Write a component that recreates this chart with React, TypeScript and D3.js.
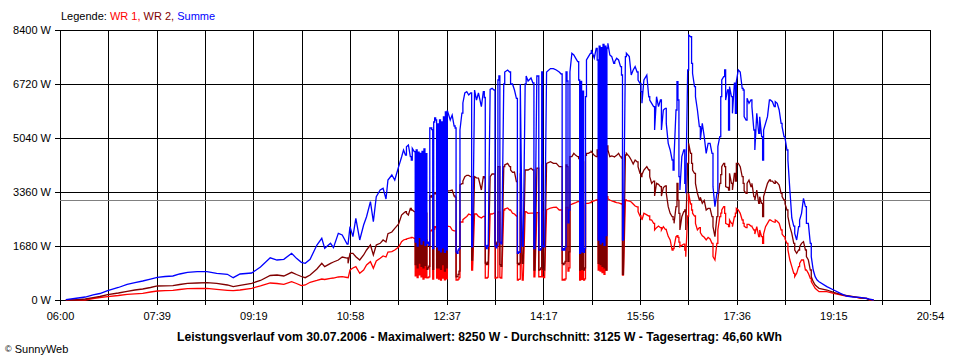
import React from 'react';
import * as d3 from 'd3';

// time of day in minutes since midnight
const times = [
  366, 375, 386, 394, 401, 409, 420, 429, 437, 445, 453, 460, 468, 476, 483, 491, 501, 511, 521, 532,
  538, 545, 557, 566, 576, 583, 590, 598, 603, 608, 612, 617, 624, 629, 632, 638, 641, 646, 650, 655,
  656, 658, 661, 664, 668, 672, 675, 679, 682, 685, 689, 692, 695, 697, 701, 704, 708, 711, 713, 715,
  716, 718, 720, 721, 722, 724, 725, 726, 727, 728, 729, 730, 731, 732, 733, 734, 735, 736, 737, 738,
  739, 740, 741, 742, 743, 744, 745, 746, 747, 748, 749, 750, 751, 752, 753, 754, 755, 756, 757, 758,
  761, 763, 765, 766, 767, 768, 769, 770, 771, 773, 774, 776, 778, 780, 782, 783, 784, 786, 788, 790,
  793, 795, 796, 797, 798, 799, 800, 802, 804, 806, 807, 808, 809, 810, 811, 812, 813, 814, 816, 817,
  820, 822, 823, 825, 827, 829, 830, 831, 832, 833, 835, 836, 838, 839, 841, 844, 846, 847, 848, 850,
  851, 852, 853, 854, 855, 856, 857, 858, 860, 864, 867, 870, 873, 875, 876, 877, 878, 879, 880, 881,
  882, 883, 884, 886, 888, 890, 892, 893, 894, 895, 896, 897, 898, 899, 900, 901, 903, 905, 906, 909,
  911, 912, 913, 914, 915, 916, 917, 918, 919, 920, 921, 922, 923, 925, 927, 929, 930, 932, 934, 936,
  937, 938, 939, 941, 942, 945, 947, 949, 951, 953, 954, 956, 957, 958, 960, 963, 965, 966, 968, 970,
  971, 973, 975, 977, 978, 980, 982, 983, 985, 987, 989, 990, 991, 993, 994, 995, 996, 997, 999, 1001,
  1002, 1003, 1005, 1006, 1008, 1009, 1010, 1012, 1013, 1015, 1017, 1018, 1020, 1022, 1024, 1026, 1028, 1030, 1031, 1033,
  1035, 1036, 1038, 1039, 1040, 1042, 1043, 1044, 1046, 1047, 1048, 1050, 1051, 1053, 1054, 1055, 1057, 1059, 1061, 1062,
  1063, 1065, 1066, 1068, 1070, 1071, 1073, 1074, 1076, 1078, 1079, 1081, 1082, 1083, 1085, 1087, 1089, 1090, 1092, 1094,
  1095, 1097, 1099, 1101, 1102, 1104, 1105, 1107, 1108, 1110, 1112, 1114, 1115, 1117, 1119, 1120, 1122, 1124, 1126, 1127,
  1129, 1131, 1132, 1134, 1136, 1138, 1140, 1148, 1155, 1162, 1168, 1175, 1182, 1189, 1192, 1196,
];

// Summe (W)
const summe = [
  10, 47, 93, 156, 202, 289, 389, 488, 544, 591, 653, 706, 731, 747, 809, 862, 880, 880, 830, 800,
  694, 809, 840, 1026, 1314, 1244, 1265, 1452, 1296, 1172, 1141, 1265, 1711, 1919, 1607, 1763, 1628, 2074, 2022, 1742,
  1742, 2281, 1970, 2540, 1867, 2333, 2592, 3059, 2437, 3214, 3422, 3474, 3142, 3733, 3888, 3733, 4148, 4448, 4667, 4511,
  4770, 4822, 4458, 4356, 4719, 4614, 1800, 4667, 1680, 4600, 1950, 4560, 1740, 4620, 1850, 4700, 1700, 4550, 1760, 1800,
  1700, 5351, 5351, 5300, 1600, 5538, 5662, 5600, 1650, 5476, 1550, 5600, 1500, 5540, 1620, 5700, 1480, 5850, 1560, 5900,
  5600, 5755, 5413, 5351, 1500, 1450, 1550, 1600, 5289, 5817, 6129, 6440, 6480, 6378, 6440, 1650, 1700, 6533, 6222, 6440,
  6013, 6480, 6300, 1680, 1600, 1700, 1650, 6553, 6584, 6533, 1680, 1620, 1700, 6844, 6969, 1800, 1750, 1850, 6720, 7093,
  7156, 7093, 6720, 6720, 6533, 6273, 1450, 1500, 1480, 6720, 1680, 1700, 6720, 6969, 6813, 6907, 6751, 1600, 1650, 6969,
  6969, 1556, 1556, 1600, 7093, 1680, 1650, 1700, 7093, 7200, 7200, 7156, 7093, 7031, 1556, 1600, 1556, 1650, 7093, 6813,
  2400, 2800, 7093, 7675, 7622, 7519, 7415, 6844, 1450, 6800, 1500, 6500, 1480, 1600, 6325, 7467, 7570, 7675, 7778, 7529,
  7830, 7467, 1867, 7900, 1750, 7850, 1800, 7950, 1700, 7900, 2000, 7840, 7985, 7622, 7570, 7363, 7415, 7519, 7467, 7260,
  7000, 1867, 1900, 7571, 7675, 7571, 7000, 7156, 7260, 7093, 6844, 6740, 6480, 6119, 6844, 6995, 6324, 6222, 6119, 6015,
  5289, 6325, 6015, 6222, 5289, 5911, 5963, 5495, 4874, 4667, 4356, 4044, 4459, 5911, 6796, 6222, 3837, 3422, 4459, 4667,
  3630, 3320, 7156, 8244, 8190, 7364, 7053, 6640, 6325, 5911, 5392, 4978, 5495, 5081, 4563, 4874, 4874, 4563, 3526, 2904,
  3320, 4770, 5081, 6325, 6844, 6951, 7156, 6222, 6533, 5289, 6640, 6325, 5807, 6744, 5807, 6796, 7156, 7093, 6584, 6533,
  5703, 5600, 6274, 6119, 6222, 6015, 5289, 4667, 5807, 5185, 5703, 5081, 4356, 5289, 5495, 5703, 6222, 6222, 6170, 6015,
  6170, 6119, 5911, 5495, 5392, 5081, 5050, 4667, 4356, 3422, 2551, 2300, 2074, 1867, 2281, 2489, 2696, 3163, 2904, 2385,
  2385, 1763, 1348, 933, 726, 622, 570, 415, 311, 207, 124, 93, 84, 47, 30, 0,
];

// WR 2 (W)
const wr2 = [
  0, 0, 31, 72, 109, 165, 218, 271, 311, 342, 389, 436, 442, 445, 482, 520, 529, 538, 520, 467,
  414, 457, 520, 607, 762, 778, 747, 862, 793, 731, 694, 778, 964, 1141, 1037, 1141, 1182, 1244, 1337, 1306,
  1141, 1452, 1452, 1348, 1244, 1400, 1556, 1711, 1400, 1711, 1763, 1867, 1804, 2064, 2116, 2229, 2364, 2644, 2700, 2748,
  2700, 2644, 2852, 2800, 2800, 2748, 1100, 2760, 1000, 2700, 1150, 2680, 1050, 2720, 1000, 2750, 1080, 2700, 950, 1000,
  1050, 3236, 3200, 3250, 950, 3300, 3330, 3300, 1000, 3300, 1000, 3360, 950, 3330, 1100, 3400, 900, 3420, 1000, 3390,
  3400, 3420, 3236, 3200, 720, 725, 800, 900, 3580, 3620, 3700, 3837, 3880, 3878, 3837, 1244, 1300, 3837, 3800, 3790,
  3422, 3837, 3800, 1150, 1100, 1180, 1100, 3837, 3920, 3920, 1767, 1700, 1800, 4148, 4148, 1100, 1050, 1150, 4148, 4200,
  4252, 4148, 4044, 3972, 3982, 3682, 1141, 1100, 1150, 3941, 1141, 1150, 4044, 4044, 4044, 4100, 4044, 933, 950, 4100,
  4100, 933, 950, 1000, 4200, 950, 933, 1000, 4252, 4304, 4252, 4252, 4148, 4148, 1141, 1100, 1150, 1200, 4200, 4148,
  1200, 1500, 4459, 4459, 4563, 4500, 4459, 4400, 933, 4400, 950, 4300, 933, 1000, 4500, 4563, 4563, 4600, 4615, 4500,
  4459, 4667, 1141, 4700, 1100, 4700, 1050, 4750, 1000, 4750, 933, 4791, 4667, 4459, 4480, 4460, 4459, 4500, 4563, 4450,
  4418, 800, 800, 4511, 4563, 4459, 4356, 4231, 4356, 4300, 4148, 3941, 3837, 3900, 4044, 4148, 4044, 3837, 3630, 3700,
  3236, 3630, 3600, 3526, 3236, 3500, 3550, 3320, 2904, 2696, 2592, 2500, 2385, 2904, 3630, 3100, 2696, 2178, 2592, 2750,
  2800, 2178, 4252, 4874, 4563, 4252, 4044, 3941, 3630, 3320, 3111, 3200, 3008, 3100, 2800, 2850, 2850, 2592, 2281, 1970,
  2592, 3111, 3630, 3900, 4148, 4252, 4148, 3526, 3500, 3422, 3941, 3630, 3422, 3941, 3700, 4252, 4252, 4148, 3837, 3630,
  3400, 3320, 3630, 3733, 3526, 3630, 3215, 3111, 3422, 3008, 3215, 3008, 2592, 3215, 3422, 3630, 3733, 3700, 3700, 3630,
  3700, 3650, 3578, 3320, 3215, 3111, 3000, 2800, 2592, 2281, 2074, 1763, 1556, 1452, 1556, 1659, 1763, 1815, 1556, 1348,
  1244, 933, 726, 570, 467, 415, 363, 311, 240, 177, 140, 103, 70, 50, 0, 0,
];

// WR 1 (W)
const wr1 = [
  0, 0, 0, 47, 78, 103, 140, 178, 193, 208, 249, 280, 289, 302, 327, 351, 358, 364, 333, 302,
  289, 311, 364, 436, 529, 513, 488, 570, 513, 445, 467, 551, 607, 653, 638, 675, 684, 716, 726, 700,
  675, 933, 996, 1037, 830, 933, 1089, 1192, 985, 1213, 1296, 1369, 1338, 1493, 1504, 1556, 1649, 1815, 1867, 1888,
  1900, 1919, 1930, 1950, 1950, 1919, 750, 1920, 700, 1900, 780, 1880, 720, 1900, 650, 1930, 700, 1880, 690, 700,
  720, 2150, 2150, 2180, 650, 2200, 2280, 2250, 680, 2250, 650, 2300, 620, 2280, 680, 2300, 630, 2320, 660, 2300,
  2280, 2178, 2150, 2150, 620, 622, 650, 700, 2427, 2427, 2500, 2551, 2600, 2676, 2650, 933, 950, 2676, 2676, 2600,
  2551, 2600, 2600, 684, 680, 700, 690, 2676, 2676, 2700, 684, 690, 700, 2738, 2738, 700, 680, 720, 2800, 2830,
  2862, 2800, 2800, 2700, 2676, 2613, 622, 640, 650, 2749, 622, 640, 2749, 2749, 2697, 2700, 2700, 720, 720, 2720,
  2720, 720, 730, 720, 2760, 720, 700, 720, 2800, 2862, 2880, 2890, 2800, 2800, 622, 640, 622, 660, 2880, 2880,
  900, 1000, 2956, 2980, 3008, 3030, 3060, 3060, 622, 3000, 640, 2950, 622, 660, 3008, 3008, 3008, 3030, 3060, 3080,
  3111, 3111, 933, 3150, 900, 3150, 850, 3160, 800, 3180, 933, 3213, 3150, 3111, 3080, 3060, 3050, 3030, 3020, 3000,
  2987, 778, 800, 3111, 3100, 3080, 3049, 2987, 2924, 2900, 2749, 2613, 2550, 2489, 2700, 2650, 2613, 2500, 2489, 2385,
  2178, 2250, 2300, 2250, 2178, 2281, 2200, 2178, 1980, 1867, 1556, 1600, 1659, 1970, 2000, 1950, 1800, 1659, 1700, 1740,
  1556, 1348, 2613, 3320, 2987, 2800, 2700, 2613, 2385, 2178, 2250, 2100, 2000, 1950, 1867, 1950, 1900, 1762, 1348, 1244,
  1762, 2178, 2592, 2700, 2800, 2904, 2696, 2385, 2350, 2281, 2489, 2385, 2281, 2592, 2700, 2852, 2800, 2696, 2489, 2385,
  2300, 2250, 2350, 2350, 2300, 2281, 2178, 2053, 2281, 1970, 2178, 1970, 1762, 2053, 2281, 2385, 2489, 2489, 2450, 2420,
  2489, 2450, 2385, 2178, 2053, 1970, 1900, 1762, 1556, 1244, 1037, 830, 726, 830, 1037, 1140, 1244, 1244, 933, 933,
  830, 674, 570, 467, 363, 311, 260, 260, 208, 156, 120, 103, 60, 50, 0, 0,
];

const yTicks = [0, 1680, 3360, 5040, 6720, 8400];
const xTickLabels = ['06:00', '07:39', '09:19', '10:58', '12:37', '14:17', '15:56', '17:36', '19:15', '20:54'];
const startMin = 360;
const endMin = 1254;
const average = 3125;
const titleText =
  'Leistungsverlauf vom 30.07.2006 - Maximalwert: 8250 W - Durchschnitt: 3125 W - Tagesertrag: 46,60 kWh';

const FONT = "'Liberation Sans', Arial, sans-serif";

export default function App() {
  const width = 960;
  const height = 360;
  const left = 60;
  const right = 930;
  const top = 30;
  const bottom = 300;

  const x = d3.scaleLinear().domain([startMin, endMin]).range([left, right]);
  const y = d3.scaleLinear().domain([0, 8400]).range([bottom, top]);

  const gridTimes = d3.range(19).map((i) => startMin + (i * (endMin - startMin)) / 18);
  const crisp = (v: number) => Math.round(v) + 0.5;

  // consecutive one-minute samples are drawn as steps (like the logger's
  // pixel plot), longer gaps are joined directly
  const mk = (vals: number[]) => {
    const p = d3.path();
    vals.forEach((v, i) => {
      const px = x(times[i]);
      const py = y(v);
      if (i === 0) {
        p.moveTo(px, py);
        return;
      }
      const dt = times[i] - times[i - 1];
      if (dt <= 1) {
        p.lineTo(px, y(vals[i - 1]));
      }
      p.lineTo(px, py);
    });
    return p.toString();
  };

  return (
    <svg
      width={width}
      height={height}
      style={{ position: 'absolute', left: 0, top: 0, background: '#fff' }}
      fontFamily={FONT}
    >
      <rect x={0} y={0} width={width} height={height} fill="#fff" />
      {/* legend */}
      <text x={61} y={20} fontSize={11}>
        <tspan fill="#000">Legende: </tspan>
        <tspan fill="#ff0000">WR 1, </tspan>
        <tspan fill="#800000">WR 2, </tspan>
        <tspan fill="#0000ff">Summe</tspan>
      </text>

      {/* horizontal grid */}
      {yTicks.map((v) => (
        <g key={'h' + v}>
          <line x1={left - 5} x2={right + 0.5} y1={crisp(y(v))} y2={crisp(y(v))} stroke="#000" strokeWidth={1} />
          <text x={51} y={y(v) + 4} fontSize={11} textAnchor="end" fill="#000">
            {v + ' W'}
          </text>
        </g>
      ))}

      {/* vertical grid */}
      {gridTimes.map((t, i) => (
        <line
          key={'v' + i}
          x1={crisp(x(t))}
          x2={crisp(x(t))}
          y1={top}
          y2={bottom + 5}
          stroke="#000"
          strokeWidth={1}
        />
      ))}
      {gridTimes
        .filter((_, i) => i % 2 === 0)
        .map((t, i) => (
          <text key={'xl' + i} x={x(t) + 0.5} y={320} fontSize={11} textAnchor="middle" fill="#000">
            {xTickLabels[i]}
          </text>
        ))}

      {/* average line */}
      <line
        x1={left}
        x2={right}
        y1={crisp(y(average))}
        y2={crisp(y(average))}
        stroke="#808080"
        strokeWidth={1}
      />

      {/* series */}
      <path d={mk(wr1)} fill="none" stroke="#ff0000" strokeWidth={1.3} />
      <path d={mk(wr2)} fill="none" stroke="#800000" strokeWidth={1.3} />
      <path d={mk(summe)} fill="none" stroke="#0000ff" strokeWidth={1.3} />

      {/* title */}
      <text x={177} y={341} fontSize={12} fontWeight="bold" textLength={605} lengthAdjust="spacingAndGlyphs" fill="#000">
        {titleText}
      </text>
      <text x={5} y={353} fill="#000">
        <tspan fontSize={9} dy={-1}>©</tspan>
        <tspan fontSize={11} dy={1}> SunnyWeb</tspan>
      </text>
    </svg>
  );
}
